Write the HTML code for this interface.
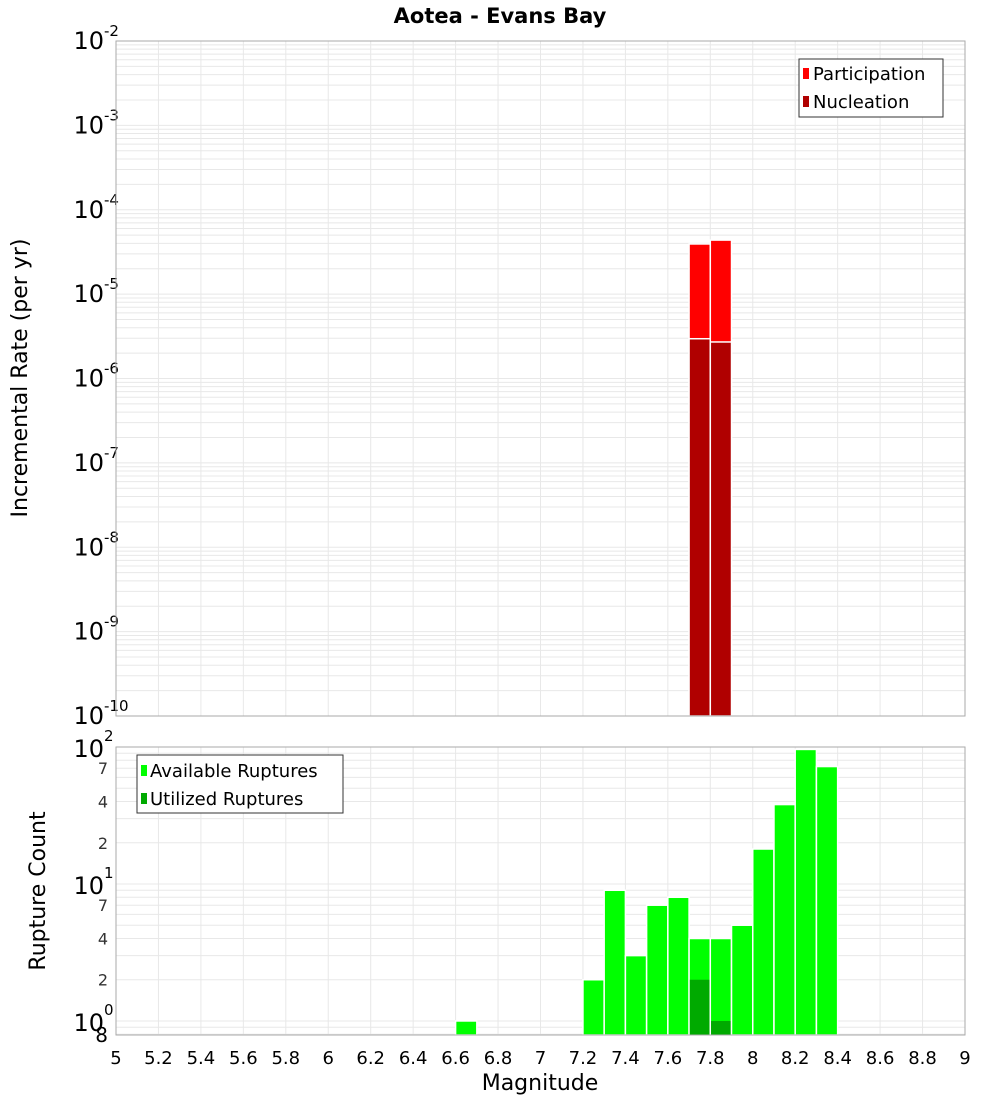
<!DOCTYPE html>
<html><head><meta charset="utf-8"><style>
body{margin:0;background:#fff;font-family:"DejaVu Sans","Liberation Sans",sans-serif}
svg text{font-family:"DejaVu Sans","Liberation Sans",sans-serif}
</style></head><body>
<svg id="c" width="1000" height="1100" xmlns="http://www.w3.org/2000/svg">
<text x="500" y="23" text-anchor="middle" font-size="21" font-weight="bold">Aotea - Evans Bay</text>
<g id="topPlot"></g>
<g id="botPlot"></g>
<text transform="translate(27,378) rotate(-90)" text-anchor="middle" font-size="22">Incremental Rate (per yr)</text>
<text transform="translate(45,891) rotate(-90)" text-anchor="middle" font-size="22">Rupture Count</text>
<text x="540" y="1090" text-anchor="middle" font-size="22">Magnitude</text>
<g>
<rect x="799" y="59" width="144" height="58" fill="#fff" stroke="#333"/>
<rect x="803" y="68" width="6" height="11" fill="#ff0000"/>
<text x="813" y="80" font-size="18">Participation</text>
<rect x="803" y="96" width="6" height="11" fill="#b00000"/>
<text x="813" y="108" font-size="18">Nucleation</text>
</g>
<g>
<rect x="137" y="755" width="206" height="58" fill="#fff" stroke="#333"/>
<rect x="141" y="765" width="6" height="11" fill="#00ff00"/>
<text x="150" y="777" font-size="18">Available Ruptures</text>
<rect x="141" y="793" width="6" height="11" fill="#00aa00"/>
<text x="150" y="805" font-size="18">Utilized Ruptures</text>
</g>
</svg>
<script>
const mags=[6.6,7.2,7.3,7.4,7.5,7.6,7.7,7.8,7.9,8.0,8.1,8.2,8.3];
const available=[1,2,9,3,7,8,4,4,5,18,38,96,72];
const utilized=[0,0,0,0,0,0,2,1,0,0,0,0,0];
const rateMags=[7.7,7.8];
const participation=[3.93e-5,4.37e-5];
const nucleation=[2.96e-6,2.71e-6];
const xTicks=[5,5.2,5.4,5.6,5.8,6,6.2,6.4,6.6,6.8,7,7.2,7.4,7.6,7.8,8,8.2,8.4,8.6,8.8,9];
const topExps=[-10,-9,-8,-7,-6,-5,-4,-3,-2];
const NS='http://www.w3.org/2000/svg';
const X0=116,X1=965;
const xs=m=>X0+(m-5)/4*(X1-X0);
const yT=v=>41+(-2-Math.log10(v))/8*675;
const BT=747,BB=1035,bMax=100,bMin=0.79;
const yB=v=>BT+(Math.log10(bMax)-Math.log10(v))/(Math.log10(bMax)-Math.log10(bMin))*(BB-BT);
function mk(p,tag,a){const e=document.createElementNS(NS,tag);for(const k in a)e.setAttribute(k,a[k]);p.appendChild(e);return e;}
const topG=document.getElementById('topPlot'),botG=document.getElementById('botPlot');
mk(topG,'rect',{x:X0,y:41,width:X1-X0,height:675,fill:'#fff'});
mk(botG,'rect',{x:X0,y:BT,width:X1-X0,height:BB-BT,fill:'#fff'});
for(const t of xTicks){
 const g1=mk(topG,'line',{x1:xs(t),x2:xs(t),y1:41,y2:716,stroke:'#e8e8e8'});
 
 
 const g2=mk(botG,'line',{x1:xs(t),x2:xs(t),y1:BT,y2:BB,stroke:'#e8e8e8'});
 
 
 const tl=mk(botG,'text',{x:xs(t),y:1064,'text-anchor':'middle','font-size':18});
 tl.textContent=String(t);
 
 
}
for(const e of topExps){
 for(let k=1;k<=9;k++){const v=k*Math.pow(10,e);if(v>0.01+1e-12)continue;const y=yT(v);
  mk(topG,'line',{x1:X0,x2:X1,y1:y,y2:y,stroke:'#e8e8e8'});}
 const y=yT(Math.pow(10,e));
 const t=mk(topG,'text',{x:104,y:y+8,'text-anchor':'end','font-size':24});
 t.textContent='10';
 
 
 const s=mk(topG,'text',{x:104,y:y-5,'font-size':15});s.textContent=String(e);
}
for(const e of [-1,0,1]){
 for(let k=1;k<=9;k++){const v=k*Math.pow(10,e);if(v<bMin||v>bMax)continue;const y=yB(v);
  mk(botG,'line',{x1:X0,x2:X1,y1:y,y2:y,stroke:'#e8e8e8'});
  if(k===2||k===4||k===7){const l=mk(botG,'text',{x:108,y:y+6,'text-anchor':'end','font-size':16,fill:'#333'});l.textContent=String(k);}
 }
}
for(const e of [0,1,2]){const y=yB(Math.pow(10,e));
 const t=mk(botG,'text',{x:104,y:y+10,'text-anchor':'end','font-size':24});t.textContent='10';
 
 
 const s=mk(botG,'text',{x:104,y:y-6,'font-size':15});s.textContent=String(e);}
{const l=mk(botG,'text',{x:108,y:1042,'text-anchor':'end','font-size':20});l.textContent='8';}
const bw=(X1-X0)/40;
rateMags.forEach((m,i)=>{
 const r=mk(topG,'rect',{x:xs(m),y:yT(participation[i]),width:bw,height:716-yT(participation[i]),fill:'#ff0000',stroke:'#fff','stroke-width':1.5});
 
 
 const n=mk(topG,'rect',{x:xs(m),y:yT(nucleation[i]),width:bw,height:716-yT(nucleation[i]),fill:'#b00000',stroke:'#fff','stroke-width':1.5});
 
 
});
mags.forEach((m,i)=>{
 const r=mk(botG,'rect',{x:xs(m),y:yB(available[i]),width:bw,height:BB-yB(available[i]),fill:'#00ff00',stroke:'#fff','stroke-width':1.5});
 
 
 if(utilized[i]>0){const u=mk(botG,'rect',{x:xs(m)+0.75,y:yB(utilized[i]),width:bw-1.5,height:BB-yB(utilized[i]),fill:'#00aa00'});
 
 }
});
mk(topG,'rect',{x:X0,y:41,width:X1-X0,height:675,fill:'none',stroke:'#aaa'});
mk(botG,'rect',{x:X0,y:BT,width:X1-X0,height:BB-BT,fill:'none',stroke:'#aaa'});
</script>
</body></html>
